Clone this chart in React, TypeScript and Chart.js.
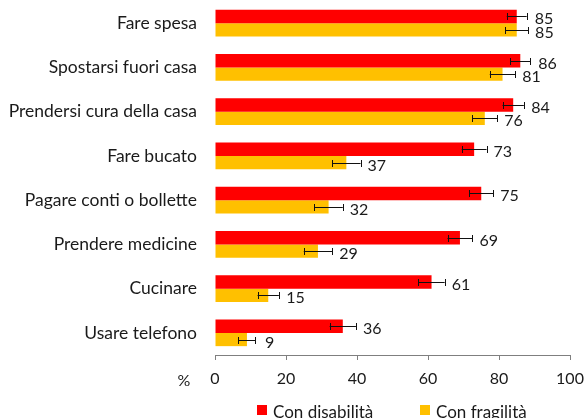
import React, { useEffect, useRef } from "react";
import { Chart, registerables } from "chart.js";

Chart.register(...registerables);

const categories = [
  "Fare spesa",
  "Spostarsi fuori casa",
  "Prendersi cura della casa",
  "Fare bucato",
  "Pagare conti o bollette",
  "Prendere medicine",
  "Cucinare",
  "Usare telefono",
];
const disabilita = [85, 86, 84, 73, 75, 69, 61, 36];
const fragilita = [85, 81, 76, 37, 32, 29, 15, 9];
const errDisabilita = [2.8, 2.8, 3.0, 3.5, 3.4, 3.5, 3.7, 3.7];
const errFragilita = [3.2, 3.6, 3.5, 4.0, 4.0, 4.0, 3.0, 2.4];
const xTicks = [0, 20, 40, 60, 80, 100];
const seriesNames = ["Con disabilità", "Con fragilità"];
const colors = ["#FF0000", "#FFC000"];

const FONT = "Lato";
const TEXT = "#1a1a1a";

const errorPlugin = {
  id: "errorBarsLabels",
  afterDatasetsDraw(chart: any) {
    const ctx = chart.ctx;
    const xs = chart.scales.x;
    const errs = [errDisabilita, errFragilita];
    ctx.save();
    chart.data.datasets.forEach((ds: any, di: number) => {
      const meta = chart.getDatasetMeta(di);
      meta.data.forEach((el: any, i: number) => {
        const v = ds.data[i];
        const e = errs[di][i];
        const lo = xs.getPixelForValue(v - e);
        const hi = xs.getPixelForValue(v + e);
        const y = Math.round(el.y) + 0.5;
        ctx.strokeStyle = "#111";
        ctx.lineWidth = 1;
        ctx.beginPath();
        ctx.moveTo(lo, y);
        ctx.lineTo(hi, y);
        ctx.moveTo(Math.round(lo) + 0.5, y - 3.5);
        ctx.lineTo(Math.round(lo) + 0.5, y + 3.5);
        ctx.moveTo(Math.round(hi) + 0.5, y - 3.5);
        ctx.lineTo(Math.round(hi) + 0.5, y + 3.5);
        ctx.stroke();
        ctx.fillStyle = TEXT;
        ctx.font = `16px ${FONT}`;
        ctx.textAlign = "left";
        ctx.textBaseline = "middle";
        const lx = Math.max(hi + 7, el.x + 18);
        ctx.fillText(String(v), lx, y + 2);
      });
    });
    // "%" label next to x tick labels
    ctx.fillStyle = TEXT;
    ctx.font = `16px ${FONT}`;
    ctx.textAlign = "center";
    ctx.textBaseline = "middle";
    ctx.fillText("%", 184, 381);

    // legend
    const legendItems = [
      { x: 257, text: seriesNames[0], color: colors[0] },
      { x: 420, text: seriesNames[1], color: colors[1] },
    ];
    ctx.font = `17px ${FONT}`;
    ctx.textAlign = "left";
    ctx.textBaseline = "alphabetic";
    legendItems.forEach((it) => {
      ctx.fillStyle = it.color;
      ctx.fillRect(it.x, 405, 10, 10);
      ctx.fillStyle = TEXT;
      ctx.fillText(it.text, it.x + 16, 417.5);
    });
    ctx.restore();
  },
};

export default function App() {
  const ref = useRef<HTMLCanvasElement>(null);
  useEffect(() => {
    if (!ref.current) return;
    const chart = new Chart(ref.current, {
      type: "bar",
      data: {
        labels: categories,
        datasets: [
          {
            label: seriesNames[0],
            data: disabilita,
            backgroundColor: colors[0],
            categoryPercentage: 0.6,
            barPercentage: 1,
          },
          {
            label: seriesNames[1],
            data: fragilita,
            backgroundColor: colors[1],
            categoryPercentage: 0.6,
            barPercentage: 1,
          },
        ],
      },
      options: {
        indexAxis: "y",
        responsive: false,
        animation: false,
        layout: { autoPadding: false, padding: { left: 0, right: 16, top: 1, bottom: 0 } },
        scales: {
          x: {
            min: 0,
            max: 100,
            afterBuildTicks: (axis: any) => {
              axis.ticks = xTicks.map((v) => ({ value: v }));
            },
            afterFit: (axis: any) => {
              axis.height = 63;
              axis.paddingLeft = 0;
              axis.paddingRight = 0;
              axis.paddingTop = 0;
              axis.paddingBottom = 0;
            },
            grid: {
              drawOnChartArea: false,
              drawTicks: true,
              tickLength: 5,
              color: "#7f7f7f",
            },
            border: { display: true, color: "#7f7f7f" },
            ticks: {
              color: TEXT,
              font: { family: FONT, size: 16 },
              padding: 9,
              maxRotation: 0,
            },
          },
          y: {
            afterFit: (axis: any) => {
              axis.width = 215;
              axis.paddingLeft = 0;
              axis.paddingRight = 0;
              axis.paddingTop = 0;
              axis.paddingBottom = 0;
            },
            grid: { display: false, drawTicks: false },
            border: { display: false },
            ticks: {
              color: TEXT,
              font: { family: FONT, size: 17.5 },
              padding: 18,
            },
          },
        },
        plugins: {
          legend: { display: false },
          tooltip: { enabled: false },
        },
      },
      plugins: [errorPlugin],
    } as any);
    return () => chart.destroy();
  }, []);
  return (
    <div style={{ position: "absolute", left: 0, top: 0, width: 586, height: 418 }}>
      <canvas ref={ref} width={586} height={418} />
    </div>
  );
}
